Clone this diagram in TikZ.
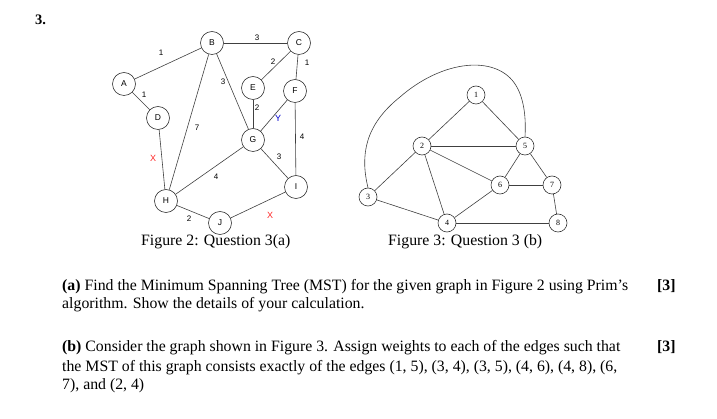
\documentclass[tikz,border=0pt]{standalone}
\usepackage{fontspec}
\setmainfont{Liberation Serif}
\newfontfamily\arialfont{Liberation Sans}
\usepackage{tikz}
\usepackage{xcolor}
\usetikzlibrary{positioning,calc}

\tikzset{
    vertex/.style={draw=black!80, line width=0.6pt, circle, minimum size=23pt, inner sep=0pt, font=\arialfont\fontsize{8.5}{9}\selectfont},
    numvertex/.style={draw=black!80, line width=0.6pt, circle, minimum size=18pt, inner sep=0pt, font=\fontsize{8}{9}\selectfont},
    edge/.style={black!75, line width=0.6pt},
    weight/.style={font=\arialfont\fontsize{8}{9}\selectfont, inner sep=0pt},
    xmark/.style={font=\arialfont\fontsize{9}{10}\selectfont, inner sep=0pt},
    bodytext/.style={anchor=base west, inner sep=0pt, font=\fontsize{15.8}{18}\selectfont}
}

\begin{document}
\begin{tikzpicture}[x=1pt, y=-1pt]
        \useasboundingbox (0,0) rectangle (717,419);
        \node[anchor=base west, inner sep=0pt, font=\fontsize{14.5}{16}\selectfont\bfseries] (qnum) at (35,25) {3.};

        % Figure 2
        \node[vertex] (A) at (124,84) {A};
        \node[vertex] (B) at (212,43) {B};
        \node[vertex] (C) at (299,43) {C};
        \node[vertex] (E) at (253,88) {E};
        \node[vertex] (F) at (295,91) {F};
        \node[vertex] (D) at (158,118) {D};
        \node[vertex] (G) at (253,140) {G};
        \node[vertex] (I) at (296,187) {I};
        \node[vertex] (H) at (166,201) {H};
        \node[vertex] (J) at (220,223) {J};
        \draw[edge] (A) -- (B);
        \draw[edge] (A) -- (D);
        \draw[edge] (B) -- (C);
        \draw[edge] (B) -- (G);
        \draw[edge] (B) -- (H);
        \draw[edge] (C) -- (E);
        \draw[edge] (C) -- (F);
        \draw[edge] (E) -- (G);
        \draw[edge] (F) -- (G);
        \draw[edge] (F) -- (I);
        \draw[edge] (D) -- (H);
        \draw[edge] (G) -- (H);
        \draw[edge] (G) -- (I);
        \draw[edge] (H) -- (J);
        \draw[edge] (J) -- (I);
        \node[weight] (wab) at (161,53) {1};
        \node[weight] (wbc) at (257,38) {3};
        \node[weight] (wce) at (273,62) {2};
        \node[weight] (wcf) at (307,63) {1};
        \node[weight] (wad) at (144,95) {1};
        \node[weight] (wbg) at (223,82) {3};
        \node[weight] (weg) at (257,108) {2};
        \node[weight] (wbh) at (197,128) {7};
        \node[weight] (wfi) at (302,137) {4};
        \node[weight] (wgi) at (279,157) {3};
        \node[weight] (wgh) at (216,177) {4};
        \node[weight] (whj) at (189,219) {2};
        \node[xmark, blue!80!black] (markY) at (278,118) {Y};
        \node[xmark, red!85] (markDH) at (153,158) {X};
        \node[xmark, red!85] (markJI) at (270,215) {X};
        \node[bodytext] (cap2) at (141,246) {Figure 2: Question 3(a)};

        % Figure 3
        \node[numvertex] (n1) at (476,95) {1};
        \node[numvertex] (n2) at (422,146) {2};
        \node[numvertex] (n5) at (525,146) {5};
        \node[numvertex] (n6) at (500,185) {6};
        \node[numvertex] (n7) at (552,185) {7};
        \node[numvertex] (n3) at (368,197) {3};
        \node[numvertex] (n4) at (447,223) {4};
        \node[numvertex] (n8) at (558,223) {8};
        \draw[edge] (n1) -- (n2);
        \draw[edge] (n1) -- (n5);
        \draw[edge] (n2) -- (n5);
        \draw[edge] (n2) -- (n3);
        \draw[edge] (n2) -- (n4);
        \draw[edge] (n2) -- (n6);
        \draw[edge] (n5) -- (n6);
        \draw[edge] (n5) -- (n7);
        \draw[edge] (n6) -- (n7);
        \draw[edge] (n6) -- (n4);
        \draw[edge] (n3) -- (n4);
        \draw[edge] (n4) -- (n8);
        \draw[edge] (n7) -- (n8);
        \draw[edge] (n3.north) .. controls (360,155) and (365,125) .. (400,97)
            .. controls (440,62) and (490,55) .. (512,80)
            .. controls (525,95) and (526,120) .. (n5.north);
        \node[bodytext] (cap3) at (388,246) {Figure 3: Question 3 (b)};

        % questions
        \node[bodytext] (qa1) at (62,291) {\textbf{(a)} Find the Minimum Spanning Tree (MST) for the given graph in Figure 2 using Prim's};
        \node[bodytext] (qa2) at (62,309) {algorithm. Show the details of your calculation.};
        \node[bodytext, font=\fontsize{15.8}{18}\selectfont\bfseries] (marka) at (657,291) {[3]};
        \node[bodytext] (qb1) at (62,352) {\textbf{(b)} Consider the graph shown in Figure 3. Assign weights to each of the edges such that};
        \node[bodytext] (qb2) at (62,371) {the MST of this graph consists exactly of the edges (1, 5), (3, 4), (3, 5), (4, 6), (4, 8), (6,};
        \node[bodytext] (qb3) at (62,389) {7), and (2, 4)};
        \node[bodytext, font=\fontsize{15.8}{18}\selectfont\bfseries] (markb) at (657,352) {[3]};
    \end{tikzpicture}
\end{document}
